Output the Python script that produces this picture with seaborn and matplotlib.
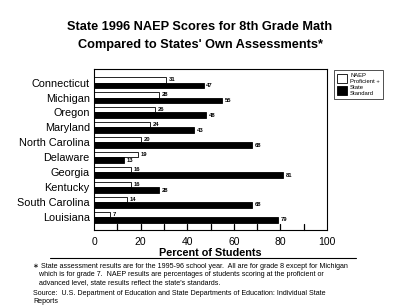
import numpy as np
import pandas as pd
import seaborn as sns
import matplotlib.pyplot as plt
from matplotlib.lines import Line2D
from matplotlib.patches import Patch

# Data
states = ['Connecticut', 'Michigan', 'Oregon', 'Maryland', 'North Carolina',
          'Delaware', 'Georgia', 'Kentucky', 'South Carolina', 'Louisiana']
naep = [31, 28, 26, 24, 20, 19, 16, 16, 14, 7]
state_std = [47, 55, 48, 43, 68, 13, 81, 28, 68, 79]
series = ['NAEP\nProficient +', 'State\nStandard']
x_ticks = [0, 20, 40, 60, 80, 100]

df = pd.DataFrame({'State': states * 2,
                   'Percent': naep + state_std,
                   'Measure': [series[0]] * len(states) + [series[1]] * len(states)})

sns.set_style('white')
plt.rcParams['font.family'] = ['Liberation Sans', 'DejaVu Sans']
plt.rcParams['text.color'] = 'black'
plt.rcParams['xtick.color'] = 'black'
plt.rcParams['ytick.color'] = 'black'
plt.rcParams['axes.labelcolor'] = 'black'

fig = plt.figure(figsize=(4, 3.06), dpi=100)
ax = fig.add_axes([0.235, 0.248, 0.5825, 0.526])

sns.barplot(data=df, y='State', x='Percent', hue='Measure', order=states,
            hue_order=series, palette=['white', 'black'], edgecolor='black',
            linewidth=0.6, width=0.75, orient='h', ax=ax, legend=False)

for cont in ax.containers:
    ax.bar_label(cont, fmt='%d', padding=2, fontsize=4.2, fontweight='bold')

ax.set_xlim(0, 100)
ax.set_ylim(9.87, -0.9)
ax.set_xticks(x_ticks)
ax.set_xticks(np.arange(10, 100, 20), minor=True)

# tick marks drawn by hand as short lines standing up from the bottom axis
for v in list(x_ticks[1:-1]) + list(np.arange(10, 100, 20)):
    ax.plot([v, v], [0, 0.035], color='black', linewidth=0.9,
            transform=ax.get_xaxis_transform(), clip_on=False, zorder=5)
ax.tick_params(axis='x', which='both', length=0, labelsize=7.5, pad=5)
ax.tick_params(axis='y', length=0, labelsize=7.8, pad=3)
ax.set_xlabel('Percent of Students', fontsize=7.8, fontweight='bold', labelpad=1)
ax.set_ylabel('')
for s in ax.spines.values():
    s.set_color('black')
    s.set_linewidth(0.8)

fig.text(0.5, 0.912, 'State 1996 NAEP Scores for 8th Grade Math',
         ha='center', va='center', fontsize=9.2, fontweight='bold')
fig.text(0.5, 0.853, "Compared to States' Own Assessments*",
         ha='center', va='center', fontsize=9.2, fontweight='bold')

handles = [Patch(facecolor='white', edgecolor='black', linewidth=0.6),
           Patch(facecolor='black', edgecolor='black', linewidth=0.6)]
leg = fig.legend(handles, series, loc='upper left', bbox_to_anchor=(0.828, 0.782),
                 fontsize=4.2, frameon=True, fancybox=False, edgecolor='black',
                 handlelength=1.7, handleheight=2.0, borderpad=0.55, labelspacing=0.3,
                 handletextpad=0.5)
leg.get_frame().set_linewidth(0.6)

fig.add_artist(Line2D([0.125, 0.89], [0.157, 0.157], color='black', linewidth=0.8))

note = ("\u2217 State assessment results are for the 1995-96 school year.  All are for grade 8 except for Michigan\n"
        "   which is for grade 7.  NAEP results are percentages of students scoring at the proficient or\n"
        "   advanced level, state results reflect the state's standards.")
fig.text(0.083, 0.142, note, ha='left', va='top', fontsize=5.1, linespacing=1.2)
fig.text(0.083, 0.052, "Source:  U.S. Department of Education and State Departments of Education: Individual State\nReports",
         ha='left', va='top', fontsize=5.1, linespacing=1.2)

fig.savefig('out.png', dpi=100)
